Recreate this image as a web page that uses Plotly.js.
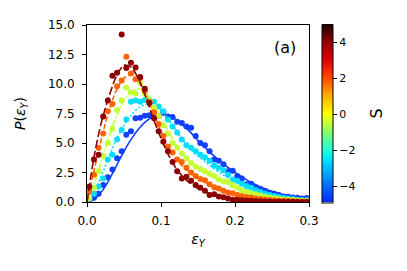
<!DOCTYPE html>
<html><head><meta charset="utf-8">
<script src="https://cdn.plot.ly/plotly-3.0.1.min.js"></script>
<style>html,body{margin:0;padding:0;background:#fff}#chart{width:407px;height:271px}</style>
</head><body><div id="chart"></div>
<script>
// histogram bin centres (epsilon_Y)
const epsBins = [0.003125,0.009375,0.015625,0.021875,0.028125,0.034375,0.040625,0.046875,0.053125,0.059375,
0.065625,0.071875,0.078125,0.084375,0.090625,0.096875,0.103125,0.109375,0.115625,0.121875,
0.128125,0.134375,0.140625,0.146875,0.153125,0.159375,0.165625,0.171875,0.178125,0.184375,
0.190625,0.196875,0.203125,0.209375,0.215625,0.221875,0.228125,0.234375,0.240625,0.246875,
0.253125,0.259375,0.265625,0.271875,0.278125,0.284375,0.290625,0.296875];

// S values of each series
const sValues = [-3.4, -1.5, 0.7, 2.8, 4.7];
const seriesColors = ['rgb(16,64,255)','rgb(0,222,255)','rgb(196,255,56)','rgb(255,100,0)','rgb(140,0,0)'];

// measured P(eps_Y)
const pBlue = [0.15,0.35,0.7,1.45,2.1,2.75,3.7,4.3,5.7,6.0,7.1,7.15,7.3,7.35,7.45,7.3,7.6,7.25,7.2,6.8,
6.7,6.4,6.3,5.6,5.0,4.8,4.3,3.6,3.5,3.2,2.6,2.65,2.2,2.0,1.5,1.55,1.25,1.1,0.95,0.75,
0.7,0.6,0.47,0.45,0.38,0.35,0.3,0.33];
const pCyan = [0.3,0.7,1.3,2.0,3.6,4.0,5.3,6.1,7.0,8.5,8.6,8.5,8.65,8.6,8.5,8.1,7.7,7.0,6.4,5.9,
5.3,4.8,4.6,4.3,4.0,3.8,3.5,3.1,2.9,2.7,2.3,1.9,1.8,1.55,1.35,1.2,1.0,0.85,0.7,0.6,
0.5,0.42,0.35,0.3,0.25,0.2,0.18,0.15];
const pYellow = [0.3,1.2,2.6,3.9,5.0,6.2,7.8,8.6,9.7,9.3,9.2,10.1,9.2,8.6,8.0,7.3,6.5,5.8,5.0,4.6,
4.1,3.7,3.3,3.0,2.8,2.6,2.4,2.2,1.9,1.75,1.7,1.4,1.2,1.0,0.85,0.75,0.65,0.55,0.45,0.38,
0.32,0.27,0.22,0.19,0.16,0.13,0.11,0.1];
const pOrange = [0.9,2.3,4.6,5.8,7.7,8.3,9.8,10.3,12.3,10.9,10.4,10.5,9.4,8.5,7.6,6.6,5.6,4.7,4.2,3.6,
3.4,2.9,2.5,2.2,1.95,1.85,1.5,1.25,1.15,0.95,0.8,0.75,0.6,0.5,0.42,0.38,0.3,0.25,0.22,0.18,
0.15,0.12,0.1,0.08,0.07,0.06,0.05,0.04];
const pRed = [1.3,3.6,4.0,7.25,8.6,10.7,10.95,14.2,11.35,11.8,11.4,10.6,9.6,8.4,7.1,6.0,5.1,4.3,3.4,2.6,
2.0,2.15,1.8,1.45,1.2,0.95,0.6,0.65,0.47,0.4,0.3,0.19,0.2,0.15,0.12,0.1,0.08,0.06,0.05,0.04,
0.03,0.03,0.02,0.02,0.02,0.01,0.01,0.01];

// fitted curves
const fitX = [0,0.01,0.02,0.03,0.04,0.05,0.06,0.07,0.08,0.09,0.1,0.11,0.12,0.13,0.14,0.15,
0.16,0.17,0.18,0.19,0.2,0.21,0.22,0.23,0.24,0.25,0.26,0.27,0.28,0.29,0.3];
const fitBlue = [0,0.25,0.9,1.9,3.1,4.3,5.35,6.2,6.85,7.25,7.4,7.3,7.0,6.5,5.9,5.2,4.6,4.0,3.45,2.95,
2.5,2.1,1.72,1.4,1.12,0.9,0.7,0.55,0.42,0.32,0.25];
const fitCyan = [0,0.9,2.3,3.9,5.3,6.5,7.4,8.0,8.3,8.25,7.8,7.0,6.1,5.2,4.5,3.9,3.4,2.9,2.45,2.05,
1.7,1.4,1.12,0.88,0.68,0.52,0.4,0.3,0.22,0.17,0.13];
const fitYellow = [0,1.6,3.6,5.6,7.3,8.6,9.4,9.6,9.2,8.3,7.2,6.0,4.9,4.0,3.35,2.9,2.5,2.15,1.8,1.5,
1.25,1.0,0.8,0.62,0.48,0.37,0.28,0.21,0.16,0.12,0.09];
const fitOrange = [0,2.8,5.5,7.8,9.5,10.5,10.8,10.2,9.0,7.5,6.0,4.7,3.7,3.0,2.45,2.0,1.65,1.35,1.1,0.9,
0.72,0.57,0.45,0.35,0.27,0.2,0.15,0.11,0.08,0.06,0.04];
const fitRed = [0,4.0,6.9,9.0,10.7,11.6,11.4,10.4,8.8,7.0,5.4,4.0,2.9,2.1,1.55,1.15,0.85,0.62,0.45,0.32,
0.23,0.16,0.11,0.08,0.05,0.04,0.03,0.02,0.015,0.01,0.01];

const xTicks = [0, 0.1, 0.2, 0.3];
const yTicks = [0, 2.5, 5, 7.5, 10, 12.5, 15];
const cbTicks = [-4, -2, 0, 2, 4];
const sRange = [-4.9, 5.0];

const measured = [pBlue, pCyan, pYellow, pOrange, pRed];
const fits = [fitBlue, fitCyan, fitYellow, fitOrange, fitRed];
const dashes = ['solid', '2px,2px', '6px,2px,1.5px,2px', '5px,2.5px', '8px,3px'];

const FONT = 'DejaVu Sans, sans-serif';
const traces = [];
for (let i = 0; i < 5; i++) {
  traces.push({x: epsBins, y: measured[i], type: 'scatter', mode: 'markers',
    marker: {size: 6, color: seriesColors[i], line: {width: 0}}, showlegend: false, hoverinfo: 'skip'});
  traces.push({x: fitX, y: fits[i], type: 'scatter', mode: 'lines',
    line: {color: seriesColors[i], width: 1.6, dash: dashes[i], shape: 'spline', smoothing: 0.8},
    showlegend: false, hoverinfo: 'skip'});
}
// colour bar holder (points lie outside the axis range)
const jetLike = [[0,'rgb(0,40,255)'],[0.09,'rgb(0,110,255)'],[0.24,'rgb(0,230,255)'],[0.3,'rgb(40,255,210)'],
  [0.39,'rgb(130,255,110)'],[0.495,'rgb(255,255,0)'],[0.6,'rgb(255,170,0)'],[0.7,'rgb(255,70,0)'],
  [0.8,'rgb(225,0,0)'],[0.9,'rgb(145,0,0)'],[1,'rgb(25,0,0)']];
traces.push({x: [-1, -1], y: [-1, -1], type: 'scatter', mode: 'markers', showlegend: false, hoverinfo: 'skip',
  marker: {size: 1, color: sRange, cmin: sRange[0], cmax: sRange[1], colorscale: jetLike, showscale: true,
    colorbar: {x: 1.0586, xanchor: 'left', xpad: 0, y: 0.5, yanchor: 'middle', ypad: 0,
      thickness: 11, thicknessmode: 'pixels', len: 178, lenmode: 'pixels',
      outlinewidth: 1, outlinecolor: '#000', tickvals: cbTicks, ticks: 'outside', ticklen: 4,
      tickcolor: '#000', tickfont: {family: FONT, size: 11, color: '#000'}}}});

const layout = {
  width: 407, height: 271, paper_bgcolor: '#fff', plot_bgcolor: '#fff',
  margin: {l: 87, r: 98, t: 25, b: 69},
  font: {family: FONT, color: '#000'},
  xaxis: {range: [0, 0.3], tickvals: xTicks, ticktext: ['0.0','0.1','0.2','0.3'],
    showgrid: false, zeroline: false, showline: true, linecolor: '#000', linewidth: 1, mirror: true,
    ticks: 'outside', ticklen: 4, tickcolor: '#000', tickfont: {size: 12, family: FONT}, ticklabelstandoff: 4,
    title: {text: '<i>ε</i><sub><i>Y</i></sub>', font: {size: 14, family: FONT}, standoff: 6}},
  yaxis: {range: [0, 15], tickvals: yTicks, ticktext: ['0.0','2.5','5.0','7.5','10.0','12.5','15.0'],
    showgrid: false, zeroline: false, showline: true, linecolor: '#000', linewidth: 1, mirror: true,
    ticks: 'outside', ticklen: 4, tickcolor: '#000', tickfont: {size: 12, family: FONT}, ticklabelstandoff: 5,
    title: {text: '<i>P</i>(<i>ε</i><sub><i>Y</i></sub>)', font: {size: 14, family: FONT}, standoff: 18}},
  annotations: [
    {text: '(a)', xref: 'paper', yref: 'paper', x: 0.892, y: 0.871, xanchor: 'center', yanchor: 'middle',
      showarrow: false, font: {size: 16, family: FONT, color: '#000'}},
    {text: 'S', xref: 'paper', yref: 'paper', x: 1.302, y: 0.5, xanchor: 'center', yanchor: 'middle',
      showarrow: false, textangle: -90, font: {size: 16, family: FONT, color: '#000'}}
  ]
};
Plotly.newPlot('chart', traces, layout, {staticPlot: true, displayModeBar: false});
</script></body></html>
